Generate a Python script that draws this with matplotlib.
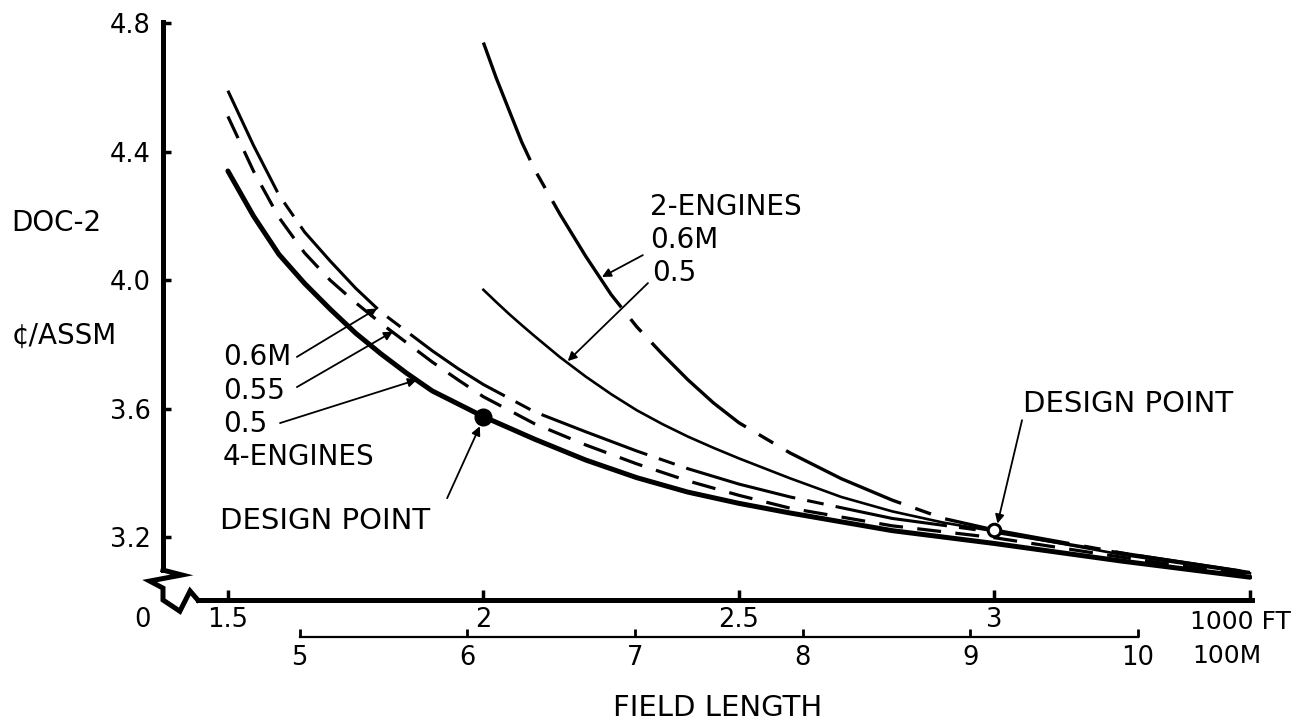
import matplotlib.pyplot as plt

plt.rcParams['font.family'] = 'DejaVu Sans'

# field length in 1000 ft, DOC-2 in cents per available seat statute mile
fl_4eng = [1.5, 1.55, 1.6, 1.65, 1.7, 1.75, 1.8, 1.85, 1.9, 1.95, 2.0,
           2.1, 2.2, 2.3, 2.4, 2.5, 2.6, 2.8, 3.0, 3.25, 3.5]
doc_4eng_050 = [4.34, 4.20, 4.08, 3.99, 3.91, 3.835, 3.77, 3.71, 3.655, 3.615, 3.575,
                3.505, 3.44, 3.385, 3.34, 3.305, 3.275, 3.22, 3.18, 3.125, 3.075]
doc_4eng_055 = [4.51, 4.34, 4.195, 4.085, 4.00, 3.93, 3.865, 3.805, 3.745, 3.69, 3.637,
                3.553, 3.487, 3.428, 3.375, 3.33, 3.29, 3.235, 3.198, 3.137, 3.08]
doc_4eng_060 = [4.59, 4.42, 4.265, 4.15, 4.06, 3.975, 3.90, 3.84, 3.78, 3.725, 3.675,
                3.59, 3.528, 3.468, 3.413, 3.365, 3.325, 3.258, 3.215, 3.15, 3.09]

fl_2eng = [2.0, 2.025, 2.05, 2.075, 2.1, 2.15, 2.2, 2.25, 2.3, 2.35, 2.4, 2.45, 2.5,
           2.6, 2.7, 2.8, 2.9, 3.0, 3.25, 3.5]
doc_2eng_060 = [4.74, 4.63, 4.53, 4.43, 4.345, 4.205, 4.075, 3.955, 3.855, 3.77, 3.69, 3.618, 3.556,
                3.462, 3.382, 3.315, 3.258, 3.222, 3.15, 3.09]
doc_2eng_050 = [3.97, 3.932, 3.895, 3.86, 3.826, 3.76, 3.70, 3.645, 3.595, 3.552, 3.513, 3.478, 3.445,
                3.383, 3.325, 3.28, 3.245, 3.218, 3.145, 3.087]

# design points (4 engines, 2 engines)
dp_fl = [2.0, 3.0]
dp_doc = [3.575, 3.222]

y_ticks = [3.2, 3.6, 4.0, 4.4, 4.8]
y_labels = ['3.2', '3.6', '4.0', '4.4', '4.8']
x_ticks = [1.5, 2.0, 2.5, 3.0, 3.5]
x_labels = ['1.5', '2', '2.5', '3', '']
m_ticks = [5, 6, 7, 8, 9, 10]
m_labels = ['5', '6', '7', '8', '9', '10']

fig = plt.figure(figsize=(13.02, 7.24), dpi=100)
ax = fig.add_axes([163 / 1302, 124 / 724, 1089 / 1302, 578 / 724])
ax.set_xlim(1.373, 3.504)
ax.set_ylim(3.004, 4.804)

# curves
line = dict(color='k', solid_joinstyle='round', dash_joinstyle='round')
ax.plot(fl_4eng, doc_4eng_050, lw=3.6, solid_capstyle='round', **line)
ax.plot(fl_4eng, doc_4eng_055, lw=2.3, dashes=(7.5, 4.5), **line)
ax.plot(fl_4eng, doc_4eng_060, lw=2.2, dashes=(37, 4, 5.5, 4), **line)
ax.plot(fl_2eng, doc_2eng_060, lw=2.4, dashes=(38, 4.5, 5, 4.5), **line)
ax.plot(fl_2eng, doc_2eng_050, lw=1.9, **line)

ax.plot(dp_fl[0], dp_doc[0], 'o', ms=12, color='k')
ax.plot(dp_fl[1], dp_doc[1], 'o', ms=9, mfc='white', mec='k', mew=2.2)

# axes: thick lines with a break at the origin
for s in ['top', 'right']:
    ax.spines[s].set_visible(False)
ax.spines['left'].set_linewidth(3.6)
ax.spines['left'].set_bounds(3.097, 4.804)
ax.spines['bottom'].set_linewidth(3.6)
ax.spines['bottom'].set_bounds(1.441, 3.504)
zx = [1.373, 1.410, 1.347, 1.373, 1.373, 1.406, 1.426, 1.441]
zy = [3.097, 3.082, 3.063, 3.041, 3.004, 2.969, 3.032, 3.004]
ax.plot(zx, zy, color='k', lw=3.6, clip_on=False, solid_joinstyle='miter')

ax.set_yticks(y_ticks)
ax.set_yticklabels(y_labels)
ax.set_xticks(x_ticks)
ax.set_xticklabels(x_labels)
ax.tick_params(axis='y', direction='in', length=6, width=2.5, pad=9, labelsize=18.5)
ax.tick_params(axis='x', direction='in', length=7, width=2.5, pad=5, labelsize=18.5)

# metric scale under the feet scale
sec = ax.secondary_xaxis(-0.064, functions=(lambda x: x * 3.048, lambda m: m / 3.048))
sec.set_xticks(m_ticks)
sec.set_xticklabels(m_labels)
sec.spines['bottom'].set_bounds(5, 10)
sec.spines['bottom'].set_linewidth(1.6)
sec.tick_params(direction='in', length=6, width=2, pad=6, labelsize=18.5)

txt = dict(color='k', clip_on=False)
ax.text(1.077, 4.178, 'DOC-2', fontsize=20, va='center', ha='left', **txt)
ax.text(1.077, 3.826, '¢/ASSM', fontsize=20, va='center', ha='left', **txt)
ax.text(1.332, 2.941, '0', fontsize=18.5, va='center', ha='center', **txt)
ax.text(3.383, 2.935, '1000 FT', fontsize=18, va='center', ha='left', **txt)
ax.text(3.387, 2.829, '100M', fontsize=18, va='center', ha='left', **txt)
ax.text(2.459, 2.667, 'FIELD LENGTH', fontsize=21, va='center', ha='center', **txt)

# labels and leader arrows
arrow = dict(arrowstyle='-|>', lw=1.3, color='k', mutation_scale=13, shrinkA=0, shrinkB=0)

ax.text(1.490, 3.761, '0.6M', fontsize=20, va='center')
ax.text(1.490, 3.655, '0.55', fontsize=20, va='center')
ax.text(1.490, 3.552, '0.5', fontsize=20, va='center')
ax.text(1.490, 3.449, '4-ENGINES', fontsize=20, va='center')
ax.annotate('', xy=(1.792, 3.912), xytext=(1.635, 3.761), arrowprops=arrow)
ax.annotate('', xy=(1.823, 3.84), xytext=(1.635, 3.667), arrowprops=arrow)
ax.annotate('', xy=(1.870, 3.69), xytext=(1.602, 3.555), arrowprops=arrow)

ax.text(2.326, 4.228, '2-ENGINES', fontsize=20, va='center')
ax.text(2.326, 4.125, '0.6M', fontsize=20, va='center')
ax.text(2.330, 4.022, '0.5', fontsize=20, va='center')
ax.annotate('', xy=(2.232, 4.01), xytext=(2.312, 4.078), arrowprops=arrow)
ax.annotate('', xy=(2.165, 3.748), xytext=(2.322, 3.991), arrowprops=arrow)

ax.text(1.484, 3.25, 'DESIGN POINT', fontsize=21, va='center')
ax.annotate('', xy=(1.993, 3.545), xytext=(1.929, 3.321), arrowprops=arrow)
ax.text(3.056, 3.614, 'DESIGN POINT', fontsize=21, va='center')
ax.annotate('', xy=(3.006, 3.242), xytext=(3.054, 3.564), arrowprops=arrow)

fig.savefig('out.png', dpi=100)
